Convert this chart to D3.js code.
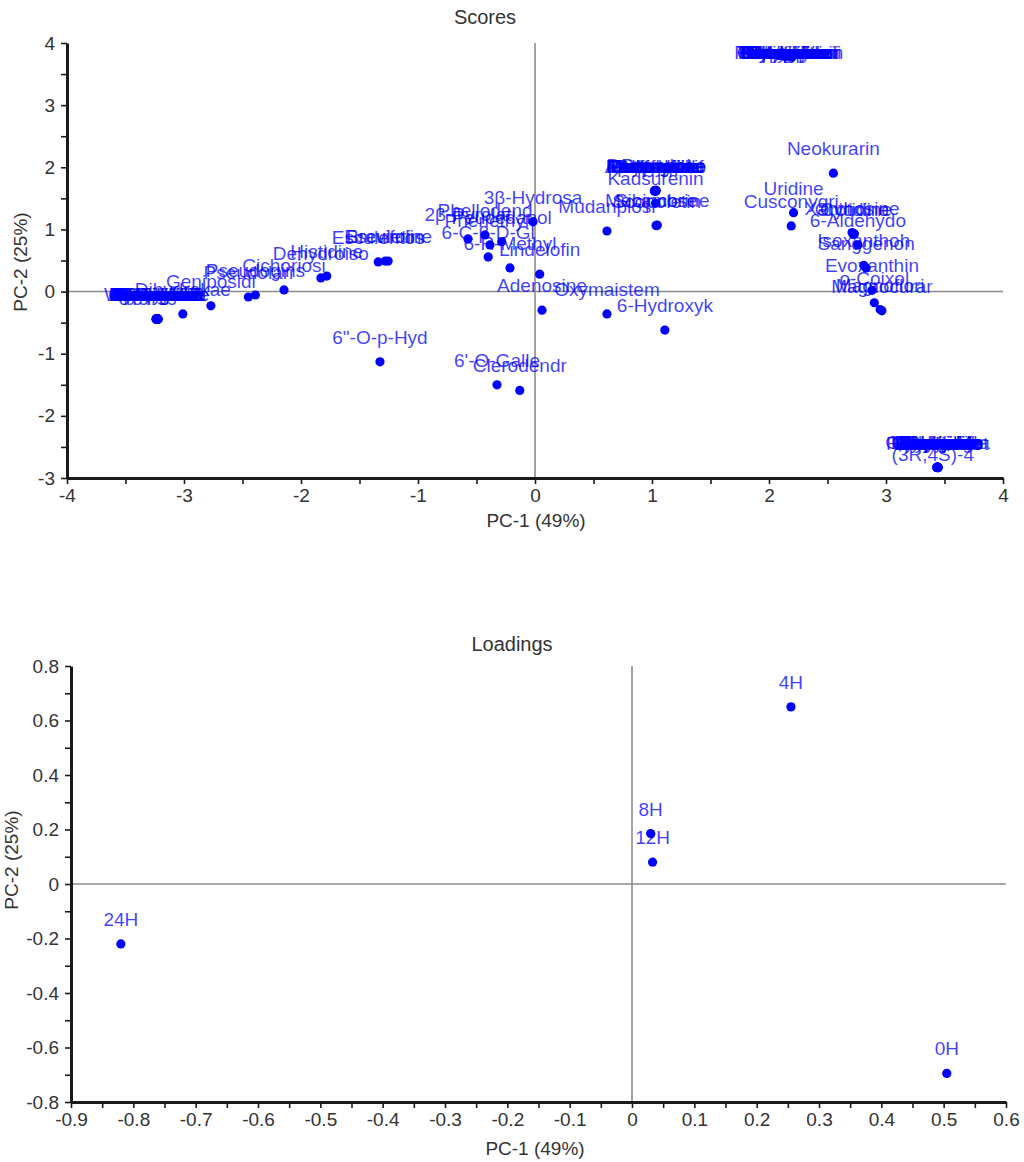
<!DOCTYPE html>
<html>
<head>
<meta charset="utf-8">
<script src="https://cdn.jsdelivr.net/npm/d3@7"></script>
<style>
  html, body { margin: 0; padding: 0; background: #fff; }
  svg { display: block; font-family: "Liberation Sans", Arial, Helvetica, sans-serif; }
</style>
</head>
<body>
<svg id="chart" width="1024" height="1162"></svg>
<script>
// ---- Scores: compound names (truncated to 10 characters) and their PC-1 / PC-2 scores ----
const scoreNames = [
  // low-PC-1 cluster
  "Isoquercit", "Kaempferol", "Quercetin-", "Hyperoside", "Astragalin", "Luteolin-7",
  "Apigenin-7", "Naringenin", "Hesperidin", "Chlorogeni", "Caffeic ac", "Ferulic ac",
  "Baicalin", "Wogonoside", "Rutin", "Isorhamnet",
  "Procyanidi", "Catechin", "Epicatechi", "Gallic aci", "Protocatec", "Vanillic a",
  "Syringic a", "Coumaric a", "Sinapic ac", "Vitexin", "Orientin", "Isovitexin",
  "Dihydrokae", "Geniposidi", "Pseudolari", "Pseudogins", "Cichoriosi",
  "Dehydroiso", "Histidine", "Esculentos", "Brevifolin", "Esculetine",
  "6\"-O-p-Hyd",
  "2β-Pyrolat", "Phellodend", "Phenethyl-", "Peucedanol", "6-C-β-D-Gl", "6-R-Methyl",
  "3β-Hydrosa", "Lindelofin", "Adenosine", "6'-O-Galle", "Clerodendr",
  "Oxymaistem", "6-Hydroxyk", "Mudanpiosi",
  // PC-2 ≈ 1.6 cluster
  "Paeoniflor", "Albiflorin", "Oxypaeonif", "Benzoylpae", "Galloylpae", "Paeonol", "Pentagallo",
  "Methylpaeo", "Paeonoside", "Apiopaeono", "Paeonolide", "Suffrutico",
  "Kadsurenin", "Sibiricose", "Scopoletin", "Mecambrine",
  // high-PC-2 cluster
  "Protopine", "Berberine", "Palmatine", "Jatrorrhiz", "Coptisine", "Columbamin",
  "Epiberberi", "Groenlandi", "Tetrahydro", "Corydaline", "Dehydrocor", "Glaucine",
  "Stylopine", "Chelerythr", "Sanguinari", "Allocrypto", "Cryptopine", "Isocorydin",
  "Nuciferine", "Roemerine",
  // right-hand group
  "Neokurarin", "Uridine", "Cusconygri", "Xanthosine", "Orotidine", "Cytidine",
  "6-Aldehydo", "Isoxanthoh", "Sanggenon", "Evoxanthin", "o-Coixol", "Magnoflori", "Magnocurar",
  // low-PC-2 cluster
  "Isoliquiri", "Liquiritin", "Glycyrrhiz", "Formononet", "Calycosin", "Ononin",
  "Licochalco", "Glabridin", "Liquiritig", "Echinatin", "Licoricone", "Glycycouma",
  "Uralenin", "Licuraside", "Glyasperin", "Kanzonol", "Licorisofl", "Gancaonin",
  "Isoangusto", "Licoflavon", "Glycyrol", "Semilicoi",
  "(3R,4S)-4"
];
const scorePC1 = [
  -3.235, -3.225, -3.232, -3.228, -3.23, -3.222,
  -3.238, -3.231, -3.226, -3.234, -3.229, -3.237,
  -3.224, -3.233, -3.23, -3.236,
  -3.227, -3.233, -3.229, -3.236, -3.224, -3.231,
  -3.226, -3.234, -3.23, -3.239, -3.221, -3.232,
  -3.01, -2.77, -2.45, -2.39, -2.145,
  -1.83, -1.78, -1.34, -1.28, -1.255,
  -1.325,
  -0.573, -0.427, -0.385, -0.285, -0.40, -0.214,
  -0.017, 0.04, 0.06, -0.325, -0.13,
  0.615, 1.11, 0.615,
  1.02, 1.025, 1.03, 1.035, 1.028, 1.032, 1.022,
  1.026, 1.034, 1.029, 1.024, 1.031,
  1.03, 1.035, 1.04, 1.045,
  2.08, 2.10, 2.12, 2.14, 2.16, 2.18, 2.20, 2.22, 2.11, 2.15, 2.19, 2.13,
  2.09, 2.17, 2.21, 2.12, 2.14, 2.18, 2.16, 2.10,
  2.55, 2.21, 2.19, 2.71, 2.72, 2.73,
  2.76, 2.81, 2.83, 2.88, 2.90, 2.95, 2.965,
  3.435, 3.44, 3.445, 3.438, 3.442, 3.436, 3.444, 3.439, 3.441, 3.437, 3.443, 3.44,
  3.438, 3.442, 3.436, 3.444, 3.439, 3.441, 3.437, 3.443, 3.44, 3.438,
  3.40
];
const scorePC2 = [
  -0.44, -0.445, -0.438, -0.442, -0.446, -0.44,
  -0.443, -0.436, -0.445, -0.441, -0.439, -0.444,
  -0.447, -0.437, -0.442, -0.44,
  -0.443, -0.439, -0.446, -0.441, -0.437, -0.444,
  -0.440, -0.445, -0.438, -0.442, -0.447, -0.436,
  -0.36, -0.23, -0.087, -0.055, 0.026,
  0.22, 0.25, 0.477, 0.49, 0.49,
  -1.13,
  0.847, 0.911, 0.75, 0.80, 0.557, 0.38,
  1.125, 0.28, -0.30, -1.50, -1.59,
  -0.36, -0.62, 0.975,
  1.62, 1.625, 1.615, 1.63, 1.62, 1.628, 1.618,
  1.622, 1.617, 1.626, 1.624, 1.619,
  1.42, 1.065, 1.06, 1.07,
  3.80, 3.82, 3.79, 3.81, 3.83, 3.80, 3.78, 3.82, 3.84, 3.79, 3.81, 3.80,
  3.81, 3.79, 3.82, 3.80, 3.83, 3.81, 3.79, 3.82,
  1.905, 1.27, 1.056, 0.95, 0.92, 0.93,
  0.75, 0.42, 0.38, 0.02, -0.18, -0.29, -0.31,
  -2.825, -2.83, -2.828, -2.832, -2.826, -2.83, -2.834, -2.827, -2.831, -2.829, -2.833, -2.826,
  -2.83, -2.828, -2.831, -2.827, -2.833, -2.829, -2.826, -2.832, -2.83, -2.828,
  -3.10
];

// ---- Loadings: sampling times ----
const loadingNames = ["0H", "4H", "8H", "12H", "24H"];
const loadingPC1 = [0.505, 0.255, 0.03, 0.033, -0.82];
const loadingPC2 = [-0.695, 0.65, 0.185, 0.08, -0.22];

// ---- Tick values ----
const scoreXTicks = [-4, -3, -2, -1, 0, 1, 2, 3, 4];
const scoreXMinor = [-3.5, -2.5, -1.5, -0.5, 0.5, 1.5, 2.5, 3.5];
const scoreYTicks = [-3, -2, -1, 0, 1, 2, 3, 4];
const scoreYMinor = [-2.5, -1.5, -0.5, 0.5, 1.5, 2.5, 3.5];
const loadXTicks = [-0.9, -0.8, -0.7, -0.6, -0.5, -0.4, -0.3, -0.2, -0.1, 0, 0.1, 0.2, 0.3, 0.4, 0.5, 0.6];
const loadXMinor = [-0.85, -0.75, -0.65, -0.55, -0.45, -0.35, -0.25, -0.15, -0.05, 0.05, 0.15, 0.25, 0.35, 0.45, 0.55];
const loadYTicks = [-0.8, -0.6, -0.4, -0.2, 0, 0.2, 0.4, 0.6, 0.8];
const loadYMinor = [-0.7, -0.5, -0.3, -0.1, 0.1, 0.3, 0.5, 0.7];

const svg = d3.select("#chart");
const BLUE = "#0000ff";

function drawPanel(cfg) {
  const g = svg.append("g");
  const x = d3.scaleLinear().domain(cfg.xDomain).range([cfg.left, cfg.right]);
  const y = d3.scaleLinear().domain(cfg.yDomain).range([cfg.bottom, cfg.top]);
  const majorX = new Set(cfg.xTicks), majorY = new Set(cfg.yTicks);

  // zero reference lines
  g.append("line")
    .attr("x1", cfg.left).attr("x2", cfg.right)
    .attr("y1", y(0)).attr("y2", y(0))
    .attr("stroke", "#8c8c8c").attr("stroke-width", 1.6);
  g.append("line")
    .attr("x1", x(0)).attr("x2", x(0))
    .attr("y1", cfg.top).attr("y2", cfg.bottom)
    .attr("stroke", "#8c8c8c").attr("stroke-width", 1.6);

  // axes
  const fmt = d => String(d);
  const xAxis = d3.axisBottom(x)
    .tickValues(cfg.xTicks.concat(cfg.xMinor))
    .tickFormat(d => majorX.has(d) ? fmt(d) : "")
    .tickSize(6).tickSizeOuter(0).tickPadding(5);
  const yAxis = d3.axisLeft(y)
    .tickValues(cfg.yTicks.concat(cfg.yMinor))
    .tickFormat(d => majorY.has(d) ? fmt(d) : "")
    .tickSize(6).tickSizeOuter(0).tickPadding(6);

  const gx = g.append("g").attr("transform", `translate(0,${cfg.bottom})`).call(xAxis);
  const gy = g.append("g").attr("transform", `translate(${cfg.left},0)`).call(yAxis);
  [gx, gy].forEach(a => {
    a.select(".domain").attr("stroke", "#1a1a1a").attr("stroke-width", 3);
    a.selectAll(".tick line").attr("stroke", "#1a1a1a").attr("stroke-width", 1.6);
    a.selectAll(".tick text").attr("fill", "#333").attr("font-size", 19)
      .attr("font-family", "'Liberation Sans', Arial, sans-serif");
  });

  // titles
  g.append("text").attr("x", cfg.titleX).attr("y", cfg.titleY)
    .attr("text-anchor", "middle").attr("font-size", 20).attr("fill", "#333")
    .text(cfg.title);
  g.append("text").attr("x", cfg.xLabelX).attr("y", cfg.xLabelY)
    .attr("text-anchor", "middle").attr("font-size", 19).attr("fill", "#333")
    .text("PC-1 (49%)");
  g.append("text")
    .attr("transform", `translate(${cfg.yLabelX},${cfg.yLabelY}) rotate(-90)`)
    .attr("text-anchor", "middle").attr("font-size", 19).attr("fill", "#333")
    .text("PC-2 (25%)");

  // clip for marks
  const clipId = "clip-" + cfg.id;
  svg.append("defs").append("clipPath").attr("id", clipId)
    .append("rect").attr("x", cfg.left).attr("y", cfg.top)
    .attr("width", cfg.right - cfg.left).attr("height", cfg.bottom - cfg.top);

  const pts = cfg.names.map((n, i) => ({ name: n, px: cfg.pc1[i], py: cfg.pc2[i] }));

  // labels sit above their point, kept inside the plot frame
  const labelY = d => Math.max(cfg.top + 16, Math.min(cfg.bottom - 17, y(d.py) - 18));
  g.append("g").selectAll("text").data(pts).join("text")
    .attr("x", d => x(d.px))
    .attr("y", labelY)
    .attr("text-anchor", "middle")
    .attr("font-size", 19)
    .attr("fill", BLUE).attr("fill-opacity", 0.75)
    .text(d => d.name);

  g.append("g").attr("clip-path", `url(#${clipId})`)
    .selectAll("circle").data(pts).join("circle")
    .attr("cx", d => x(d.px)).attr("cy", d => y(d.py))
    .attr("r", 4.6).attr("fill", BLUE);
}

drawPanel({
  id: "scores", title: "Scores",
  names: scoreNames, pc1: scorePC1, pc2: scorePC2,
  xDomain: [-4, 4], yDomain: [-3, 4],
  left: 67, right: 1003, top: 43, bottom: 478,
  xTicks: scoreXTicks, xMinor: scoreXMinor, yTicks: scoreYTicks, yMinor: scoreYMinor,
  titleX: 485, titleY: 24, xLabelX: 536, xLabelY: 527, yLabelX: 27, yLabelY: 262
});

drawPanel({
  id: "loadings", title: "Loadings",
  names: loadingNames, pc1: loadingPC1, pc2: loadingPC2,
  xDomain: [-0.9, 0.6], yDomain: [-0.8, 0.8],
  left: 71, right: 1006, top: 666, bottom: 1102,
  xTicks: loadXTicks, xMinor: loadXMinor, yTicks: loadYTicks, yMinor: loadYMinor,
  titleX: 512, titleY: 651, xLabelX: 535, xLabelY: 1155, yLabelX: 18, yLabelY: 860
});
</script>
</body>
</html>
